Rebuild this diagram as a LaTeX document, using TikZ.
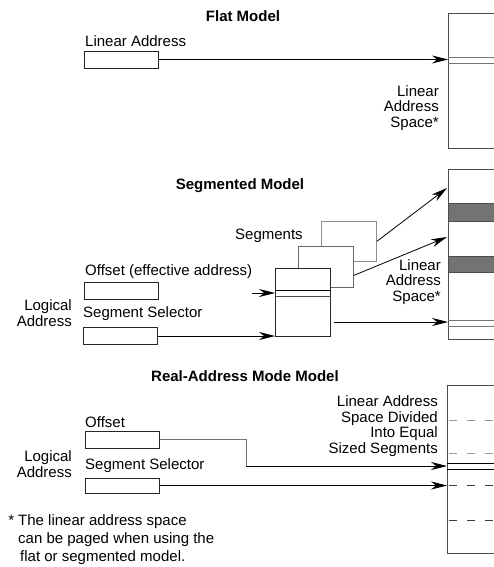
\documentclass[tikz,border=0pt]{standalone}
\usepackage{fontspec}
\setmainfont{Liberation Sans}
\usetikzlibrary{positioning,arrows.meta}

\begin{document}
\begin{tikzpicture}[
  x=1pt, y=-1pt,
  font=\fontsize{15pt}{15.5pt}\selectfont,
  title/.style={font=\fontsize{15pt}{15.5pt}\selectfont\bfseries, inner sep=0pt},
  lab/.style={inner sep=0pt, anchor=west},
  rlab/.style={inner sep=0pt, align=right, anchor=east},
  field/.style={draw=black!85, line width=0.9pt, minimum width=74pt, minimum height=17pt, inner sep=0pt},
  segbox/.style={draw, line width=0.8pt, fill=white, minimum width=55pt, anchor=north west, inner sep=0pt},
  lspace/.style={draw=black!70, line width=0.9pt, minimum width=80pt, anchor=north west, inner sep=0pt},
  band/.style={draw=black!70, fill=black!55, line width=0.6pt},
  thinl/.style={black!55, line width=0.6pt},
  dashl/.style={line width=0.8pt, dash pattern=on 8pt off 10pt},
  arr/.style={-{Stealth[length=16pt, width=8pt]}, line width=0.8pt}
]
\useasboundingbox (0,0) rectangle (494,567);
\clip (0,0) rectangle (494,567);
% ----- flat model -----
\node[title] (flattitle) at (243,16) {Flat Model};
\node[lab]   (flatlab)   at (85,41)  {Linear Address};
\node[field] (flatbox)   at (121.5,59.5) {};
\node[lspace, minimum height=135pt] (flatspace) at (448,13) {};
\foreach \y in {57,63}{\draw[thinl] (flatspace.west |- 0,\y) -- ++(60,0);}
\node[rlab] (flatspacelab) at (439,108) {Linear\\Address\\Space*};
\draw[arr] (flatbox.east) -- (flatspace.west |- flatbox.east);
% ----- segmented model -----
\node[title] (segtitle) at (240,186) {Segmented Model};
\node[lab]   (offlab)   at (85,272)  {Offset (effective address)};
\node[field] (offbox)   at (121.5,290.5) {};
\node[lab]   (sellab)   at (83,314)  {Segment Selector};
\node[field] (selbox)   at (120.5,336) {};
\node[rlab]  (seglogic) at (72,313)  {Logical\\Address};
\node[lab]   (seglab)   at (235,236) {Segments};
\node[segbox, draw=black!45, minimum height=40pt] (segback)  at (321,221) {};
\node[segbox, draw=black!60, minimum height=41pt] (segmid)   at (298,246) {};
\node[segbox, draw=black!85, minimum height=68pt] (segfront) at (275,268) {};
\draw[line width=0.8pt] (segfront.west |- 0,290) -- (segfront.east |- 0,290);
\draw[line width=0.8pt, black!70] (segfront.west |- 0,296) -- (segfront.east |- 0,296);
\node[lspace, minimum height=170pt] (segspace) at (448,169) {};
\node[band, anchor=north west, minimum width=80pt, minimum height=18pt, inner sep=0pt] (band1) at (448,203) {};
\node[band, anchor=north west, minimum width=80pt, minimum height=16pt, inner sep=0pt] (band2) at (448,256) {};
\foreach \y in {320,326}{\draw[thinl] (segspace.west |- 0,\y) -- ++(60,0);}
\node[rlab] (segspacelab) at (441,282) {Linear\\Address\\Space*};
\coordinate (hitA) at (447,188);
\coordinate (hitB) at (447,237);
\coordinate (offtip) at (252,293);
\draw[arr] (segback.east) -- (hitA);
\draw[arr] ([yshift=-8.5pt]segmid.east) -- (hitB);
\draw[arr] (offtip) -- (offtip -| segfront.west);
\draw[arr] (selbox.east) -- (selbox.east -| segfront.west);
\draw[arr] ([xshift=3pt]segfront.east |- 0,322) -- (segspace.west |- 0,322);
% ----- real-address mode model -----
\node[title] (realtitle) at (245,376) {Real-Address Mode Model};
\node[lab]   (roff)      at (85,422) {Offset};
\node[field] (roffbox)   at (122.5,439.5) {};
\node[lab]   (rsel)      at (85,466) {Segment Selector};
\node[field, minimum height=15pt] (rselbox) at (122.5,485.5) {};
\node[rlab]  (reallogic) at (72,464) {Logical\\Address};
\node[lspace, minimum height=168pt] (realspace) at (447,385) {};
\foreach \y/\c in {420/black!40, 453/black!40, 485/black!75, 520/black!75}
  {\draw[dashl, \c] (realspace.west |- 0,\y) ++(2,0) -- ++(60,0);}
\foreach \y in {463,469}{\draw[line width=0.8pt] (realspace.west |- 0,\y) -- ++(60,0);}
\node[rlab] (realspacelab) at (438,426) {Linear Address\\Space Divided\\Into Equal\\Sized Segments};
\coordinate (bend) at (246,466);
\draw[thinl, line width=0.8pt] (roffbox.east) -| (bend);
\draw[arr] (bend) -- (bend -| realspace.west);
\draw[arr] (rselbox.east) -- (rselbox.east -| realspace.west);
% ----- footnote -----
\node[inner sep=0pt, anchor=north west, align=left, font=\fontsize{15pt}{18pt}\selectfont] (note) at (18,514)
  {\llap{*\hspace{4pt}}The linear address space\\can be paged when using the\\\hspace{2pt}flat or segmented model.};
\end{tikzpicture}
\end{document}
